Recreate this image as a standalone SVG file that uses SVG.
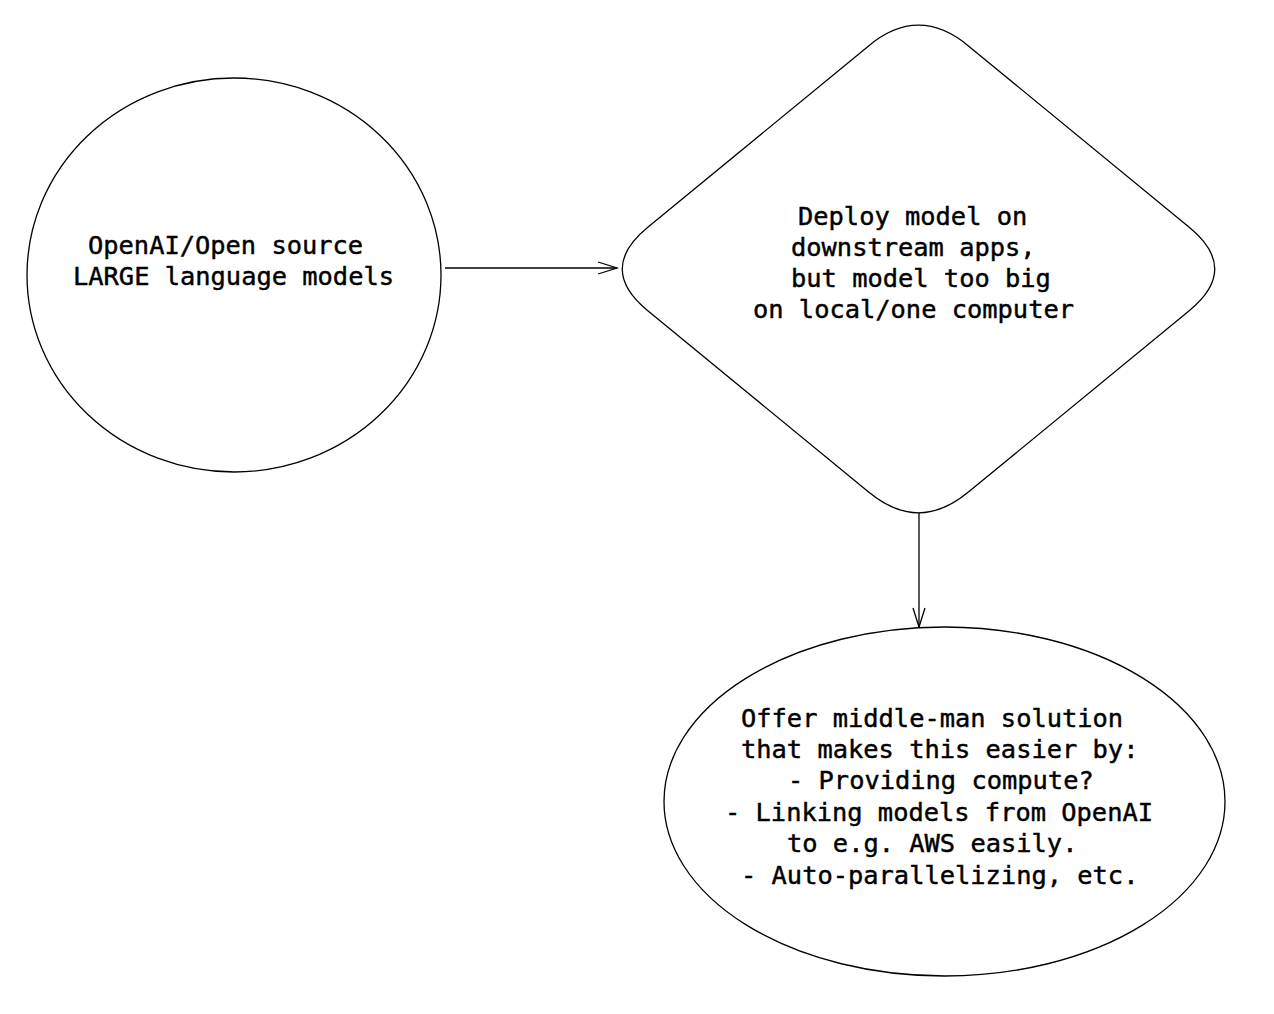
<svg xmlns="http://www.w3.org/2000/svg" width="1274" height="1014" viewBox="0 0 1274 1014">
  <style>
    .shape { fill: #ffffff; stroke: #000000; stroke-width: 1.3; }
    .edge { fill: none; stroke: #000000; stroke-width: 1.3; }
    .lbl { font-family: "DejaVu Sans Mono", "Liberation Mono", monospace; font-size: 25.4px; fill: #000000; stroke: #000000; stroke-width: 0.45px; }
  </style>
  <defs>
    <marker id="arrow" markerUnits="userSpaceOnUse" markerWidth="24" markerHeight="16" viewBox="-1 -8 22 16" refX="19" refY="0" orient="auto">
      <path d="M0,-6 L19,0 L0,6" fill="none" stroke="#000000" stroke-width="1.3"/>
    </marker>
  </defs>
  <rect width="1274" height="1014" fill="#ffffff"/>
  <g id="connectors">
    <line class="edge" x1="445" y1="268" x2="617" y2="268" marker-end="url(#arrow)"/>
    <line class="edge" x1="919" y1="512" x2="919" y2="627" marker-end="url(#arrow)"/>
  </g>
  <g id="node-llm">
    <ellipse class="shape" cx="234" cy="275" rx="207" ry="197"/>
    <text class="lbl" x="88" y="254">OpenAI/Open source</text>
    <text class="lbl" x="73" y="285">LARGE language models</text>
  </g>
  <g id="node-deploy">
    <path class="shape" d="M868,46.4 Q918.5,4 969,46.4 L1189.5,227.6 Q1240,269 1189.5,310.4 L969,491.6 Q918.5,534 868,491.6 L647.5,310.4 Q597,269 647.5,227.6 Z"/>
    <text class="lbl" x="798" y="225">Deploy model on</text>
    <text class="lbl" x="791" y="256">downstream apps,</text>
    <text class="lbl" x="791" y="287">but model too big</text>
    <text class="lbl" x="753" y="318">on local/one computer</text>
  </g>
  <g id="node-solution">
    <ellipse class="shape" cx="944.5" cy="801.5" rx="280.5" ry="174.5"/>
    <text class="lbl" x="741" y="727">Offer middle-man solution</text>
    <text class="lbl" x="741" y="758">that makes this easier by:</text>
    <text class="lbl" x="788" y="789">- Providing compute?</text>
    <text class="lbl" x="725" y="821">- Linking models from OpenAI</text>
    <text class="lbl" x="787" y="852">to e.g. AWS easily.</text>
    <text class="lbl" x="741" y="884">- Auto-parallelizing, etc.</text>
  </g>
</svg>
